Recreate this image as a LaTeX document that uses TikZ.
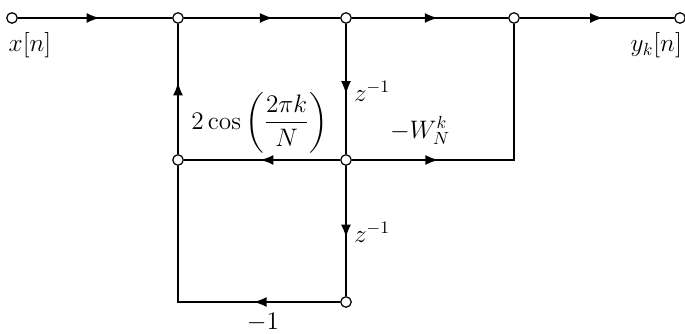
\documentclass[tikz,border=0pt]{standalone}
\usepackage{amsmath,amssymb}
\usetikzlibrary{arrows.meta,decorations.markings}
\tikzset{
  sfgnode/.style={draw, circle, fill=white, minimum size=0.21cm, inner sep=0pt, line width=0.7pt},
  branch/.style={line width=0.9pt, postaction={decorate},
    decoration={markings, mark=at position #1 with {\arrow{Latex[length=2.6mm,width=2mm]}}}},
  branch/.default=0.55,
  gainlabel/.style={font=\Large, inner sep=1pt},
}

\begin{document}
\begin{tikzpicture}[x=1cm, y=1cm]
  \useasboundingbox (0,0) rectangle (13.7,6.68);

  % nodes of the flow graph
  \node[sfgnode] (xin) at (0.24,6.32) {};
  \node[sfgnode] (tA) at (3.56,6.32) {};
  \node[sfgnode] (tB) at (6.92,6.32) {};
  \node[sfgnode] (tC) at (10.28,6.32) {};
  \node[sfgnode] (yout) at (13.6,6.32) {};
  \node[sfgnode] (mA) at (3.56,3.48) {};
  \node[sfgnode] (mB) at (6.92,3.48) {};
  \node[sfgnode] (bB) at (6.92,0.64) {};
  \coordinate (cR) at (10.28,3.48);
  \coordinate (cL) at (3.56,0.64);

  % branches
  \draw[branch=0.53] (xin) -- (tA);
  \draw[branch=0.57] (tA) -- (tB);
  \draw[branch] (tB) -- (tC);
  \draw[branch=0.54] (tC) -- (yout);
  \draw[branch] (mA) -- (tA);
  \draw[branch=0.54] (tB) -- (mB);
  \draw[branch=0.51] (mB) -- (mA);
  \draw[branch=0.29] (mB) -- (cR) -- (tC);
  \draw[branch] (mB) -- (bB);
  \draw[branch=0.29] (bB) -- (cL) -- (mA);

  % labels
  \node[gainlabel] (xlab) at (0.6,5.78) {$x[n]$};
  \node[gainlabel, anchor=east] (ylab) at (13.68,5.78) {$y_k[n]$};
  \node[gainlabel, anchor=west] (zone) at (7.04,4.86) {$z^{-1}$};
  \node[gainlabel, anchor=west] (zlow) at (7.04,2.04) {$z^{-1}$};
  \node[gainlabel, anchor=east] (cosg) at (6.6,4.22) {$2\cos\left(\dfrac{2\pi k}{N}\right)$};
  \node[gainlabel, anchor=south] (wgain) at (8.4,3.74) {$-W_N^k$};
  \node[gainlabel, anchor=south] (mone) at (5.26,0.0) {$-1$};
\end{tikzpicture}
\end{document}
